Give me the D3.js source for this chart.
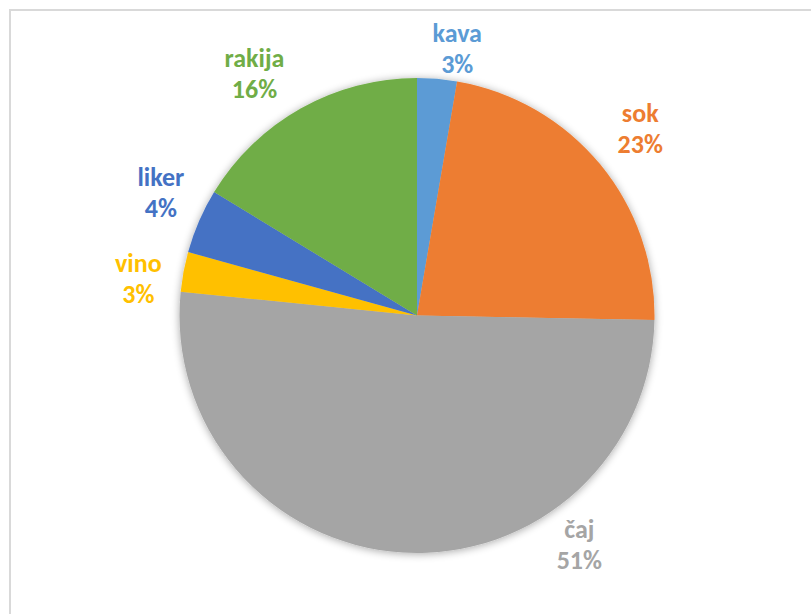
<!DOCTYPE html>
<html>
<head>
<meta charset="utf-8">
<script src="https://cdn.jsdelivr.net/npm/d3@7"></script>
<style>
  html, body { margin: 0; padding: 0; background: #fff; }
  svg { display: block; }
  .lbl { font-family: Carlito, Calibri, Lato, sans-serif; font-weight: bold; font-size: 26px; }
</style>
</head>
<body>
<div id="chart"></div>
<script>
// podaci
var categories = ['kava', 'sok', 'čaj', 'vino', 'liker', 'rakija'];
var values = [2.7, 22.6, 51.3, 2.7, 4.4, 16.3];
var colors = ['#5B9BD5', '#ED7D31', '#A5A5A5', '#FFC000', '#4472C4', '#70AD47'];

// pomak oznaka (stupnjevi) i udaljenost od središta - samo raspored
var labelShift = { 'kava': 3.7, 'sok': -0.3, 'čaj': -38.7, 'vino': -3.2, 'liker': 2.2, 'rakija': -4.6 };
var labelDist = { 'kava': 270, 'sok': 291, 'čaj': 281, 'vino': 281, 'liker': 284, 'rakija': 291 };

var width = 811, height = 614;
var cx = 417, cy = 315.5, radius = 237.5;

var svg = d3.select('#chart').append('svg')
  .attr('width', width)
  .attr('height', height);

// okvir grafikona
svg.append('rect')
  .attr('x', 10).attr('y', 10)
  .attr('width', width).attr('height', height)
  .attr('fill', 'none')
  .attr('stroke', '#d9d9d9')
  .attr('stroke-width', 2);

var defs = svg.append('defs');
var filter = defs.append('filter').attr('id', 'sjena')
  .attr('x', '-10%').attr('y', '-10%').attr('width', '120%').attr('height', '120%');
filter.append('feGaussianBlur').attr('in', 'SourceAlpha').attr('stdDeviation', 4);
filter.append('feOffset').attr('dx', 0).attr('dy', 1).attr('result', 'blur');
filter.append('feComponentTransfer').append('feFuncA').attr('type', 'linear').attr('slope', 0.35);
var merge = filter.append('feMerge');
merge.append('feMergeNode');
merge.append('feMergeNode').attr('in', 'SourceGraphic');

var data = categories.map(function(c, i) {
  return { name: c, value: values[i], color: colors[i] };
});
var total = d3.sum(values);

var pie = d3.pie().sort(null).value(function(d) { return d.value; });
var arc = d3.arc().innerRadius(0).outerRadius(radius);
var arcs = pie(data);

var g = svg.append('g').attr('transform', 'translate(' + cx + ',' + cy + ')');

g.append('g').attr('filter', 'url(#sjena)')
  .selectAll('path')
  .data(arcs)
  .enter().append('path')
  .attr('d', arc)
  .attr('fill', function(d) { return d.data.color; });

// oznake
var labels = g.selectAll('text.lbl')
  .data(arcs)
  .enter().append('text')
  .attr('class', 'lbl')
  .attr('text-anchor', 'middle')
  .attr('fill', function(d) { return d.data.color; })
  .attr('transform', function(d) {
    var a = (d.startAngle + d.endAngle) / 2 + labelShift[d.data.name] * Math.PI / 180;
    var r = labelDist[d.data.name];
    return 'translate(' + (r * Math.sin(a)) + ',' + (-r * Math.cos(a)) + ')';
  });

labels.append('tspan')
  .attr('x', 0).attr('y', -7)
  .text(function(d) { return d.data.name; });

labels.append('tspan')
  .attr('x', 0).attr('y', 24)
  .text(function(d) { return Math.round(d.data.value / total * 100) + '%'; });
</script>
</body>
</html>
